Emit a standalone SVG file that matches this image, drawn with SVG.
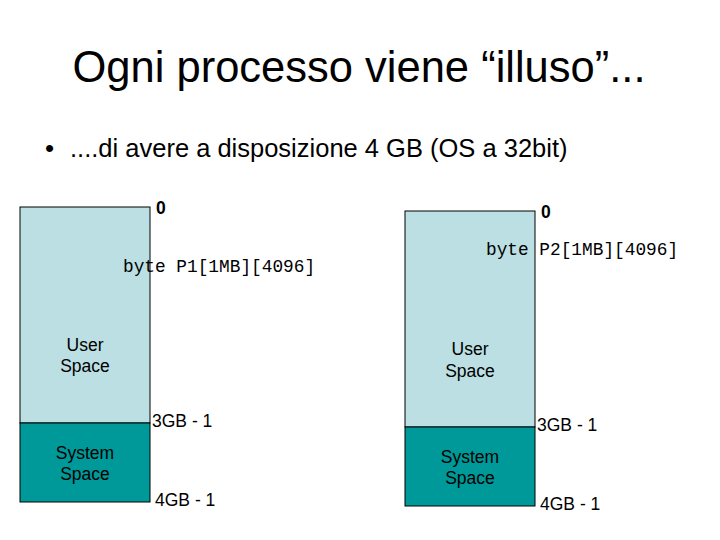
<svg xmlns="http://www.w3.org/2000/svg" width="720" height="540" viewBox="0 0 720 540">
<style>
.t{font-family:"Liberation Sans",Arial,sans-serif;fill:#000}
.m{font-family:"Liberation Mono","Courier New",monospace;font-size:17.8px;fill:#000;font-weight:300}
.u{fill:#BBDFE3;stroke:#000;stroke-width:1}
.s{fill:#009999;stroke:#000;stroke-width:1}
.c{font-size:17.5px;text-anchor:middle}
.l{font-size:17.5px}
</style>
<rect width="720" height="540" fill="#fff"/>
<text class="t" x="359" y="82" font-size="43.5" text-anchor="middle">Ogni processo viene “illuso”...</text>
<text class="t" x="45" y="157" font-size="26">•</text>
<text class="t" x="70" y="157" font-size="25.5">....di avere a disposizione 4 GB (OS a 32bit)</text>
<g id="p1">
<rect class="u" x="20" y="207" width="130" height="216"/>
<rect class="s" x="20" y="423" width="130" height="79"/>
<text class="t c" x="85" y="351">User</text>
<text class="t c" x="85" y="372">Space</text>
<text class="t c" x="85" y="459">System</text>
<text class="t c" x="85" y="480">Space</text>
<text class="t l" x="156" y="214" font-weight="bold">0</text>
<text class="m" x="123" y="272">byte P1[1MB][4096]</text>
<text class="t l" x="152" y="427">3GB - 1</text>
<text class="t l" x="155" y="506">4GB - 1</text>
</g>
<g id="p2">
<rect class="u" x="405" y="211" width="130" height="216"/>
<rect class="s" x="405" y="427" width="130" height="79"/>
<text class="t c" x="470" y="355">User</text>
<text class="t c" x="470" y="377">Space</text>
<text class="t c" x="470" y="463">System</text>
<text class="t c" x="470" y="484">Space</text>
<text class="t l" x="541" y="218" font-weight="bold">0</text>
<text class="m" x="486" y="255">byte P2[1MB][4096]</text>
<text class="t l" x="537" y="431">3GB - 1</text>
<text class="t l" x="540" y="510">4GB - 1</text>
</g>
<g id="connectors"/>
</svg>
